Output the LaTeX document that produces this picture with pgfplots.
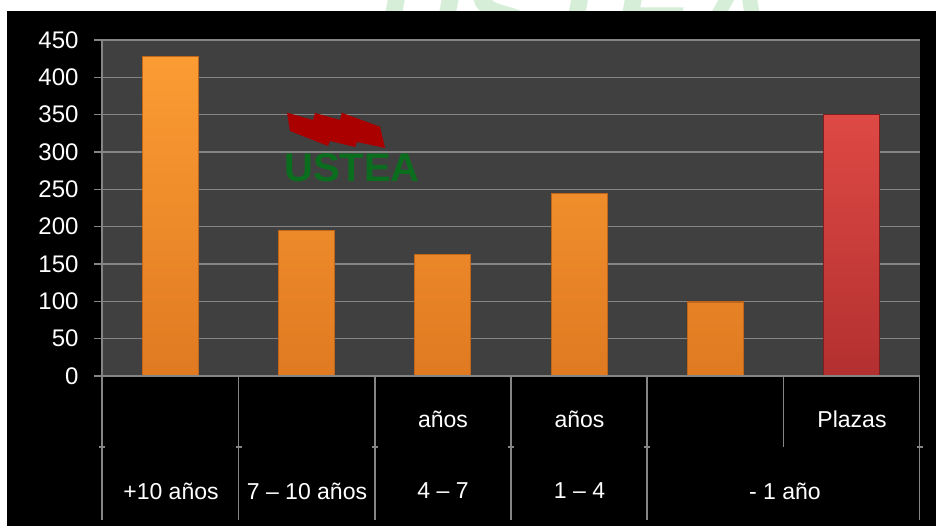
\documentclass[border=0pt]{standalone}
\usepackage{pgfplots}
\pgfplotsset{compat=1.18}
\usepackage{fontspec}
\setmainfont{Liberation Sans}

\definecolor{plotbg}{HTML}{404040}
\definecolor{gridgray}{HTML}{858585}
\definecolor{orangetop}{HTML}{FB9C33}
\definecolor{orangebot}{HTML}{E07A22}
\definecolor{orangeedge}{HTML}{BF661B}
\definecolor{redtop}{HTML}{DE4944}
\definecolor{redbot}{HTML}{B33030}
\definecolor{rededge}{HTML}{7E1E1E}
\definecolor{wmgreen}{HTML}{D6EED8}
\definecolor{logogreen}{HTML}{0B6E1F}
\definecolor{logored}{HTML}{AA0000}

\begin{document}
\begin{tikzpicture}[x=1pt,y=1pt]
\useasboundingbox (0,0) rectangle (936,526);
% watermark strip at the top
\begin{scope}
  \clip (0,0) rectangle (936,526);
  \fill[white] (0,0) rectangle (936,526);
  \node[anchor=base, text=wmgreen, font=\fontsize{118}{118}\selectfont\bfseries\itshape] at (576,470) {USTEA};
\end{scope}
\fill[black] (7,0) rectangle (936,515);

\begin{axis}[
  at={(102pt,150pt)}, anchor=south west,
  scale only axis, width=818pt, height=336pt,
  xmin=-0.5, xmax=5.5, ymin=0, ymax=450,
  ytick={0,50,...,450}, xtick=\empty,
  axis background/.style={fill=plotbg},
  ymajorgrids, grid style={draw=gridgray, line width=1.4pt},
  axis x line*=bottom, axis y line*=left,
  axis line style={-, draw=gridgray, line width=1.4pt},
  tick align=outside, major tick length=8pt,
  ytick style={draw=gridgray, line width=1.4pt},
  yticklabel style={text=white, font=\fontsize{24}{24}\selectfont, xshift=-12pt},
  /pgf/number format/assume math mode=true,
  ybar, bar width=56pt, bar shift=0pt,
  clip=false,
]
\addplot[draw=orangeedge, line width=1.2pt, top color=orangetop, bottom color=orangebot]
  coordinates {(0,428) (1,195) (2,163) (3,244) (4,99)};
\addplot[draw=rededge, line width=1.2pt, top color=redtop, bottom color=redbot]
  coordinates {(5,350)};
\end{axis}

% category table below the axis
\begin{scope}[draw=gridgray, line width=1.4pt]
  \draw (94,150) -- (920,150);
  \foreach \x in {102,238.5,375,511,647,919.5} {
    \draw (\x,150) -- (\x,5.5);
    \draw (\x-3,79) -- (\x+3,79);
  }
  \draw (783.5,150) -- (783.5,79);
\end{scope}
\begin{scope}[every node/.style={text=white, font=\fontsize{23}{23}\selectfont}]
  \node at (443,107) {años};
  \node at (579.5,107) {años};
  \node at (852,107) {Plazas};
  \node at (171,35) {+10 años};
  \node at (307,35) {7 – 10 años};
  \node at (443,35) {4 – 7};
  \node at (579.5,35) {1 – 4};
  \node at (785,35) {- 1 año};
\end{scope}

% logo
\fill[logored] (287,413.3) -- (313,406) -- (315,413) -- (340,406) -- (341.7,413.3)
  -- (380,399.3) -- (385,378) -- (357,384) -- (355,379) -- (330,385) -- (328,380)
  -- (290,395) -- cycle;
\node[text=logogreen, font=\fontsize{40}{40}\selectfont\bfseries] at (352,358) {USTEA};
\end{tikzpicture}
\end{document}
